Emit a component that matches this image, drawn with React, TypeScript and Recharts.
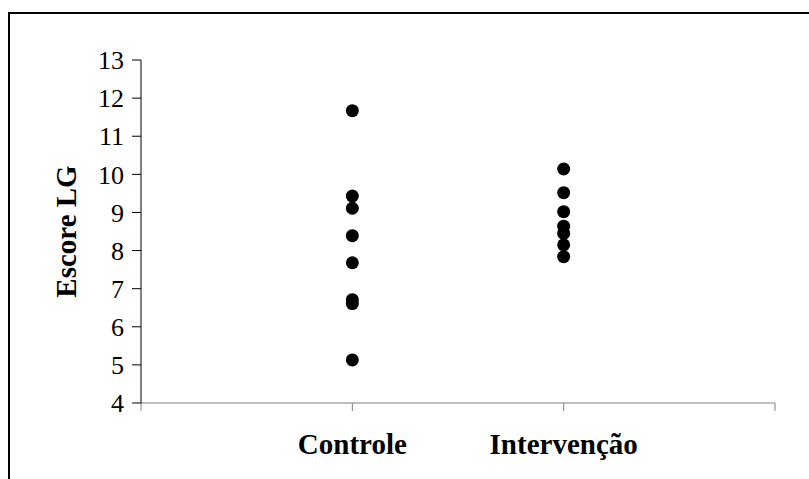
import { ScatterChart, Scatter, XAxis, YAxis } from "recharts";

// group positions on the numeric x axis (0 and 3 are empty end ticks)
const groups = ["", "Controle", "Intervenção", ""];

const controleScores = [11.67, 9.43, 9.11, 8.39, 7.68, 6.71, 6.61, 5.13];
const intervencaoScores = [10.14, 9.52, 9.02, 8.64, 8.45, 8.15, 7.84];

const yTicks = [4, 5, 6, 7, 8, 9, 10, 11, 12, 13];

const controleData = controleScores.map((score) => ({ group: 1, score }));
const intervencaoData = intervencaoScores.map((score) => ({ group: 2, score }));

const serif = "'Liberation Serif', 'Times New Roman', serif";

const Dot = (props: any) => <circle cx={props.cx} cy={props.cy} r={6.5} fill="#000" />;

const App = () => {
  return (
    <div
      style={{
        position: "absolute",
        left: 0,
        top: 0,
        width: 809,
        height: 479,
        overflow: "hidden",
        background: "#fff",
      }}
    >
      <div
        style={{
          position: "absolute",
          left: 8,
          top: 12,
          width: 900,
          height: 900,
          borderTop: "2px solid #000",
          borderLeft: "2px solid #000",
        }}
      />
      <div style={{ position: "absolute", left: 0, top: 0 }}>
        <ScatterChart
          width={809}
          height={479}
          margin={{ top: 60, right: 34, bottom: 36, left: 41 }}
        >
          <XAxis
            type="number"
            dataKey="group"
            domain={[0, 3]}
            ticks={[0, 1, 2, 3]}
            tickFormatter={(v: number) => groups[v] ?? ""}
            height={40}
            stroke="#808080"
            tickSize={8}
            tickMargin={22}
            tick={{ fill: "#000", fontFamily: serif, fontSize: 29, fontWeight: "bold" }}
            allowDataOverflow
          />
          <YAxis
            type="number"
            dataKey="score"
            domain={[4, 13]}
            ticks={yTicks}
            interval={0}
            width={100}
            stroke="#000"
            tickSize={9}
            tickMargin={8}
            tick={{ fill: "#000", fontFamily: serif, fontSize: 26 }}
            label={{
              value: "Escore LG",
              angle: -90,
              position: "insideLeft",
              offset: 25,
              style: { fill: "#000", fontFamily: serif, fontSize: 29, fontWeight: "bold", textAnchor: "middle" },
            }}
          />
          <Scatter data={controleData} shape={Dot} isAnimationActive={false} />
          <Scatter data={intervencaoData} shape={Dot} isAnimationActive={false} />
        </ScatterChart>
      </div>
    </div>
  );
};

export default App;
